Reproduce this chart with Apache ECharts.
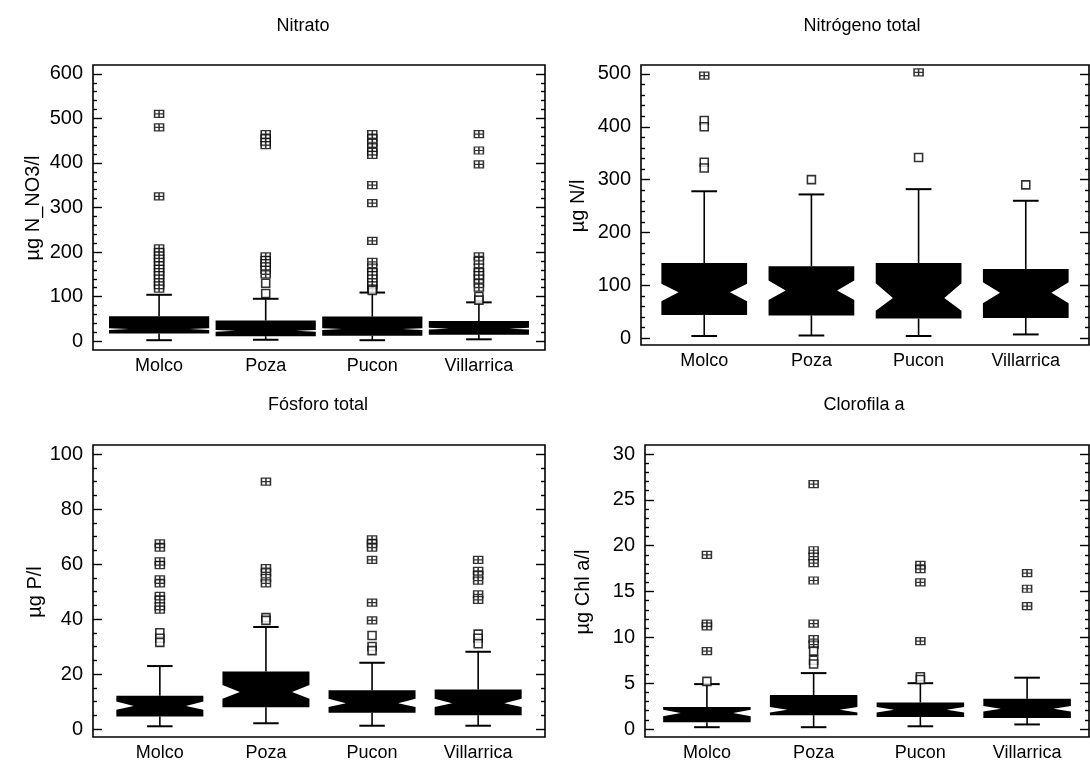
<!DOCTYPE html>
<html><head><meta charset="utf-8">
<script src="https://cdn.jsdelivr.net/npm/echarts/dist/echarts.min.js"></script>
<style>html,body{margin:0;padding:0;background:#fff}#c{width:1090px;height:762px}</style>
</head><body><div id="c"></div>
<script>
// ---------- DATA ----------
const categories = ['Molco', 'Poza', 'Pucon', 'Villarrica'];
const panelTitles = ['Nitrato', 'Nitrógeno total', 'Fósforo total', 'Clorofila a'];
const axisNames = ['µg N_NO3/l', 'µg N/l', 'µg P/l', 'µg Chl a/l'];

// box rows: [low whisker, Q1, notch low, median, notch high, Q3, high whisker]
const nitratoBoxes = [
  [2, 17, 25, 27, 29, 56, 104],
  [3, 11, 21, 23, 25, 46, 95],
  [2, 12, 25, 27, 29, 55, 109],
  [4, 14, 26, 28, 30, 45, 87]
];
const nitratoFar = [
  [510, 480, 325, 208, 200, 192, 185, 178, 170, 162, 155, 148, 140, 132, 125, 118],
  [465, 455, 447, 440, 190, 182, 175, 168, 160, 150],
  [465, 455, 445, 435, 425, 418, 350, 310, 225, 178, 165, 155, 148, 140, 132, 125, 118],
  [465, 428, 397, 190, 180, 165, 155, 148, 140, 130, 120]
];
const nitratoNear = [
  [],
  [130, 107],
  [114],
  [100, 92]
];
const nitratoTicks = [0, 100, 200, 300, 400, 500, 600];

const nitrogenoBoxes = [
  [4, 44, 70, 87, 103, 142, 278],
  [5, 43, 72, 90, 109, 136, 272],
  [4, 37, 52, 76, 104, 142, 282],
  [7, 38, 66, 86, 106, 131, 260]
];
const nitrogenoFar = [
  [497],
  [],
  [503],
  []
];
const nitrogenoNear = [
  [412, 400, 333, 322],
  [300],
  [342],
  [290]
];
const nitrogenoTicks = [0, 100, 200, 300, 400, 500];

const fosforoBoxes = [
  [1.0, 4.6, 7.0, 8.4, 10.0, 12.1, 22.9],
  [2.1, 7.9, 11.0, 13.5, 16.0, 20.9, 37.1],
  [1.2, 5.9, 8.0, 9.4, 11.0, 14.1, 24.1],
  [1.2, 5.0, 8.0, 9.4, 11.0, 14.4, 28.1]
];
const fosforoFar = [
  [67.5, 66, 61, 59.6, 54.4, 53, 48.4, 47, 44.6, 43.4],
  [90, 58.5, 57, 55, 53],
  [69, 67.5, 66, 61.5, 46, 39.5],
  [61.5, 57.5, 56, 54, 49, 47]
];
const fosforoNear = [
  [35, 33, 31.5],
  [40.5, 39.5],
  [34, 30, 28.5],
  [34.5, 33, 31]
];
const fosforoTicks = [0, 20, 40, 60, 80, 100];

const clorofilaBoxes = [
  [0.2, 0.75, 1.4, 1.75, 2.1, 2.4, 4.9],
  [0.2, 1.5, 1.8, 2.1, 2.4, 3.7, 6.1],
  [0.3, 1.3, 1.8, 2.1, 2.4, 2.9, 5.0],
  [0.5, 1.2, 1.9, 2.2, 2.5, 3.3, 5.6]
];
const clorofilaFar = [
  [19.0, 11.5, 11.2, 8.5],
  [26.7, 19.5, 18.8, 18.1, 16.2, 11.5, 9.8, 9.2],
  [17.9, 17.45, 16.0, 9.6],
  [17.0, 15.3, 13.4]
];
const clorofilaNear = [
  [5.2],
  [8.5, 7.5, 7.1],
  [5.7, 5.4],
  []
];
const clorofilaTicks = [0, 5, 10, 15, 20, 25, 30];

// ---------- LAYOUT / STYLE ----------
const FONT = "'Liberation Sans', Arial, sans-serif";
const panels = [
  {boxes: nitratoBoxes, far: nitratoFar, near: nitratoNear, ticks: nitratoTicks, minorStep: 20,
   grid: {left: 93, top: 65, width: 452, height: 285}, yMin: -20, yMax: 620, xMin: 0.38, xMax: 4.62,
   boxWidth: 0.94, title: [303, 26], name: [33, 208]},
  {boxes: nitrogenoBoxes, far: nitrogenoFar, near: nitrogenoNear, ticks: nitrogenoTicks, minorStep: 20,
   grid: {left: 641, top: 65, width: 448, height: 280}, yMin: -13, yMax: 517, xMin: 0.41, xMax: 4.59,
   boxWidth: 0.8, title: [862, 26], name: [578, 206]},
  {boxes: fosforoBoxes, far: fosforoFar, near: fosforoNear, ticks: fosforoTicks, minorStep: 5,
   grid: {left: 93, top: 445, width: 452, height: 292}, yMin: -2.9, yMax: 103.3, xMin: 0.37, xMax: 4.63,
   boxWidth: 0.82, title: [318, 405], name: [35, 592]},
  {boxes: clorofilaBoxes, far: clorofilaFar, near: clorofilaNear, ticks: clorofilaTicks, minorStep: 1,
   grid: {left: 645, top: 445, width: 444, height: 292}, yMin: -0.87, yMax: 30.98, xMin: 0.42, xMax: 4.58,
   boxWidth: 0.82, title: [864, 405], name: [583, 592]}
];

function minorTicks(p) {
  const out = [];
  const lo = p.ticks[0], hi = p.ticks[p.ticks.length - 1];
  for (let v = lo; v <= hi + 1e-9; v += p.minorStep) {
    if (!p.ticks.some(t => Math.abs(t - v) < 1e-9)) out.push(+v.toFixed(6));
  }
  return out;
}

function renderBox(p) {
  return function (params, api) {
    const x = api.value(0);
    const low = api.value(1), q1 = api.value(2), nlo = api.value(3), med = api.value(4),
          nhi = api.value(5), q3 = api.value(6), high = api.value(7);
    const hw = p.boxWidth / 2;
    const y = v => api.coord([x, v])[1];
    const cx = api.coord([x, med])[0];
    const left = api.coord([x - hw, med])[0], right = api.coord([x + hw, med])[0];
    const capL = api.coord([x - 0.12, med])[0], capR = api.coord([x + 0.12, med])[0];
    const inset = (right - left) * 0.2;
    const ls = {stroke: '#000', lineWidth: 1.6};
    return {type: 'group', children: [
      {type: 'line', shape: {x1: cx, y1: y(q3), x2: cx, y2: y(high)}, style: ls},
      {type: 'line', shape: {x1: capL, y1: y(high), x2: capR, y2: y(high)}, style: {stroke: '#000', lineWidth: 2}},
      {type: 'line', shape: {x1: cx, y1: y(q1), x2: cx, y2: y(low)}, style: ls},
      {type: 'line', shape: {x1: capL, y1: y(low), x2: capR, y2: y(low)}, style: {stroke: '#000', lineWidth: 2}},
      {type: 'polygon', shape: {points: [
        [left, y(q1)], [right, y(q1)], [right, y(nlo)], [right - inset, y(med)], [right, y(nhi)],
        [right, y(q3)], [left, y(q3)], [left, y(nhi)], [left + inset, y(med)], [left, y(nlo)]
      ]}, style: {fill: '#000'}}
    ]};
  };
}

const grids = [], xAxes = [], yAxes = [], series = [], graphics = [];
const tickLine = {color: '#000', width: 1.4};
const crossSym = 'path://M0,0H10V10H0ZM5,0V10M0,5H10';

panels.forEach((p, gi) => {
  grids.push(Object.assign({show: true, borderColor: '#000', borderWidth: 1.6, backgroundColor: 'transparent'}, p.grid));
  xAxes.push({gridIndex: gi, type: 'value', min: p.xMin, max: p.xMax,
    axisLine: {show: false}, axisTick: {show: false}, splitLine: {show: false},
    axisLabel: {customValues: [1, 2, 3, 4], formatter: v => categories[Math.round(v) - 1] || '',
      color: '#000', fontSize: 18, fontFamily: FONT, margin: 7}});
  const base = {gridIndex: gi, type: 'value', min: p.yMin, max: p.yMax, splitLine: {show: false}, axisLine: {show: false}};
  const mnr = minorTicks(p);
  const yi = yAxes.length;
  yAxes.push(Object.assign({}, base, {position: 'left',
    axisTick: {show: true, inside: true, length: 9, customValues: p.ticks, lineStyle: tickLine},
    axisLabel: {show: true, customValues: p.ticks, margin: 10, color: '#000', fontSize: 20, fontFamily: FONT}}));
  yAxes.push(Object.assign({}, base, {position: 'left',
    axisTick: {show: true, inside: true, length: 4, customValues: mnr, lineStyle: tickLine},
    axisLabel: {show: false}}));
  yAxes.push(Object.assign({}, base, {position: 'right',
    axisTick: {show: true, inside: true, length: 9, customValues: p.ticks, lineStyle: tickLine},
    axisLabel: {show: false}}));
  yAxes.push(Object.assign({}, base, {position: 'right',
    axisTick: {show: true, inside: true, length: 4, customValues: mnr, lineStyle: tickLine},
    axisLabel: {show: false}}));

  series.push({type: 'custom', xAxisIndex: gi, yAxisIndex: yi, renderItem: renderBox(p),
    data: p.boxes.map((b, i) => [i + 1].concat(b)), silent: true});
  const farData = [], nearData = [];
  p.far.forEach((arr, i) => arr.forEach(v => farData.push([i + 1, v])));
  p.near.forEach((arr, i) => arr.forEach(v => nearData.push([i + 1, v])));
  series.push({type: 'scatter', xAxisIndex: gi, yAxisIndex: yi, data: farData, symbol: crossSym,
    symbolSize: [9, 7], itemStyle: {color: '#fff', borderColor: '#000', borderWidth: 1.4}, silent: true, z: 5});
  series.push({type: 'scatter', xAxisIndex: gi, yAxisIndex: yi, data: nearData, symbol: 'rect',
    symbolSize: 8, itemStyle: {color: '#fff', borderColor: '#000', borderWidth: 1.6}, silent: true, z: 5});

  graphics.push({type: 'text', x: p.title[0], y: p.title[1],
    style: {text: panelTitles[gi], fill: '#000', font: '18px ' + FONT, textAlign: 'center', textVerticalAlign: 'middle'}});
  graphics.push({type: 'text', x: p.name[0], y: p.name[1], rotation: Math.PI / 2,
    style: {text: axisNames[gi], fill: '#000', font: '20px ' + FONT, textAlign: 'center', textVerticalAlign: 'middle'}});
});

const chart = echarts.init(document.getElementById('c'), null, {renderer: 'canvas'});
chart.setOption({
  animation: false,
  backgroundColor: '#fff',
  grid: grids, xAxis: xAxes, yAxis: yAxes, series: series, graphic: graphics
});
</script>
</body></html>
